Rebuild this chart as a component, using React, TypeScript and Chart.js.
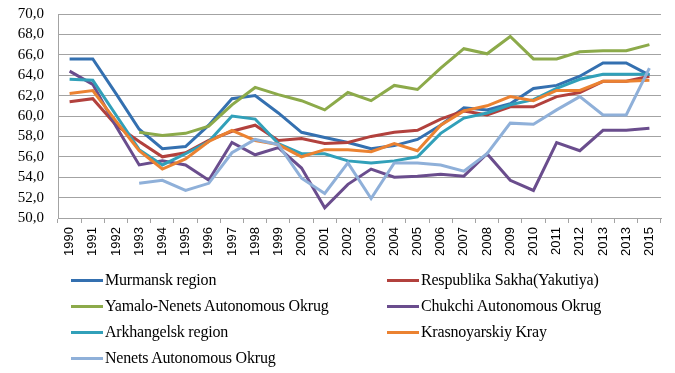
import React, { useEffect, useRef } from 'react';
import { Chart, registerables } from 'chart.js';

Chart.register(...registerables);

const years = ['1990','1991','1992','1993','1994','1995','1996','1997','1998','1999','2000','2001','2002','2003','2004','2005','2006','2007','2008','2009','2010','2011','2012','2013','2013','2015'];

const murmansk = [65.6,65.6,62.2,58.7,56.8,57.0,59.1,61.7,62.0,60.3,58.4,57.9,57.4,56.8,57.1,57.7,59.1,60.8,60.6,61.2,62.7,63.0,63.9,65.2,65.2,64.0];
const sakha = [61.4,61.7,59.1,57.5,56.0,56.4,57.6,58.5,59.1,57.6,57.8,57.3,57.4,58.0,58.4,58.6,59.7,60.5,60.1,60.9,60.9,61.9,62.3,63.4,63.4,63.9];
const yamalo = [null,null,null,58.4,58.1,58.3,59.0,61.1,62.8,62.1,61.5,60.6,62.3,61.5,63.0,62.6,64.7,66.6,66.1,67.8,65.6,65.6,66.3,66.4,66.4,67.0];
const chukchi = [64.4,63.1,59.0,55.2,55.6,55.2,53.7,57.4,56.2,56.9,54.9,51.0,53.3,54.8,54.0,54.1,54.3,54.1,56.3,53.7,52.7,57.4,56.6,58.6,58.6,58.8];
const arkhangelsk = [63.6,63.5,60.1,56.7,55.2,56.3,57.5,60.0,59.7,57.3,56.3,56.3,55.6,55.4,55.6,56.0,58.3,59.8,60.3,61.1,61.6,62.7,63.6,64.1,64.1,64.1];
const krasnoyarsk = [62.2,62.5,59.5,56.6,54.8,55.8,57.5,58.6,57.6,57.2,56.0,56.7,56.7,56.5,57.3,56.6,59.1,60.5,61.0,61.9,61.5,62.5,62.5,63.4,63.4,63.5];
const nenets = [null,null,null,53.4,53.7,52.7,53.4,56.4,57.7,57.2,53.9,52.4,55.4,51.9,55.4,55.4,55.2,54.6,56.3,59.3,59.2,60.6,61.9,60.1,60.1,64.7];

const seriesNames = ['Murmansk region','Respublika Sakha(Yakutiya)','Yamalo-Nenets Autonomous Okrug','Chukchi Autonomous Okrug','Arkhangelsk region','Krasnoyarskiy Kray','Nenets Autonomous Okrug'];
const seriesData = [murmansk, sakha, yamalo, chukchi, arkhangelsk, krasnoyarsk, nenets];
const seriesColors = ['#3470B0','#B2413D','#8CAA4A','#6A4D8D','#31A0B9','#EB8231','#8FB0D9'];

const yMin = 50;
const yMax = 70;
const yStep = 2;

const GRID = '#A3A3A3';

export default function App() {
  const ref = useRef<HTMLCanvasElement | null>(null);

  useEffect(() => {
    if (!ref.current) return;
    const n = seriesData.length;
    const chart = new Chart(ref.current, {
      type: 'line',
      data: {
        labels: years,
        datasets: seriesData.map((d, i) => ({
          label: seriesNames[i],
          data: d,
          borderColor: seriesColors[i],
          backgroundColor: seriesColors[i],
          borderWidth: 3,
          pointRadius: 0,
          tension: 0,
          fill: false,
          order: n - 1 - i,
        })),
      },
      options: {
        responsive: false,
        animation: false,
        layout: { padding: { top: 14, right: 14, left: 0, bottom: 0 } },
        plugins: { legend: { display: false }, tooltip: { enabled: false } },
        scales: {
          x: {
            offset: true,
            grid: { display: true, drawOnChartArea: false, drawTicks: true, tickLength: 5, offset: true, color: GRID },
            border: { display: true, color: GRID },
            ticks: {
              autoSkip: false,
              minRotation: 90,
              maxRotation: 90,
              padding: 4,
              color: '#000',
              font: { family: "'Liberation Sans', Arial, sans-serif", size: 13 },
            },
            afterFit: (s: any) => { s.height = 155; },
          },
          y: {
            min: yMin,
            max: yMax,
            grid: { color: GRID, drawTicks: false },
            border: { display: true, color: GRID },
            ticks: {
              stepSize: yStep,
              autoSkip: false,
              padding: 14,
              color: '#000',
              font: { family: "'Liberation Serif', 'Times New Roman', serif", size: 15, lineHeight: 1 },
              callback: (v: any) => Number(v).toFixed(1).replace('.', ','),
            },
            afterFit: (s: any) => { s.width = 58; s.paddingTop = 0; s.paddingBottom = 0; },
          },
        },
      },
    });
    return () => chart.destroy();
  }, []);

  const rows = [280, 306, 332, 358];
  const cols = [71, 387];

  return (
    <div style={{ position: 'fixed', left: 0, top: 0, width: 675, height: 373, background: '#fff' }}>
      <canvas ref={ref} width={675} height={373} style={{ position: 'absolute', left: 0, top: 0, width: 675, height: 373 }} />
      {seriesNames.map((name, i) => {
        const col = i % 2;
        const row = Math.floor(i / 2);
        const x = cols[col];
        const y = rows[row];
        return (
          <div key={i} style={{ position: 'absolute', left: x, top: y - 10, height: 20, display: 'flex', alignItems: 'center', whiteSpace: 'nowrap' }}>
            <div style={{ width: 32, height: 3, background: seriesColors[i], marginRight: 2 }} />
            <span style={{ fontFamily: "'Liberation Serif', 'Times New Roman', serif", fontSize: 16, color: '#000', letterSpacing: '-0.2px' }}>{name}</span>
          </div>
        );
      })}
    </div>
  );
}
